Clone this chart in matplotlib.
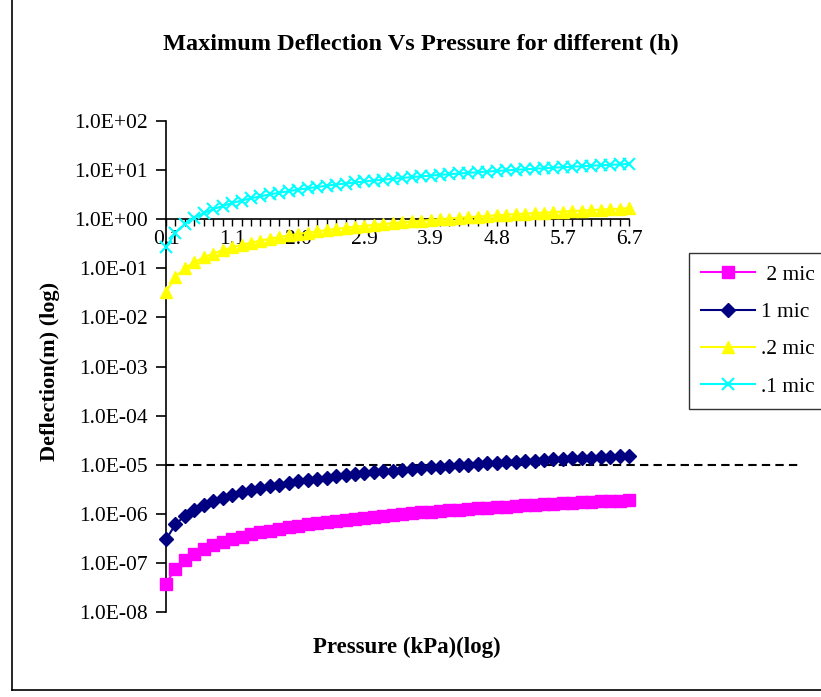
import matplotlib
matplotlib.use('Agg')
import matplotlib.pyplot as plt
from matplotlib.lines import Line2D
from matplotlib.ticker import FuncFormatter

plt.rcParams['font.family'] = ['Liberation Serif', 'DejaVu Serif']

# pressure in kPa (1..50 Torr)
pressure = [0.133, 0.267, 0.400, 0.533, 0.667, 0.800, 0.933, 1.067, 1.200, 1.333,
            1.467, 1.600, 1.733, 1.867, 2.000, 2.133, 2.266, 2.400, 2.533, 2.666,
            2.800, 2.933, 3.066, 3.200, 3.333, 3.466, 3.600, 3.733, 3.866, 4.000,
            4.133, 4.266, 4.400, 4.533, 4.666, 4.800, 4.933, 5.066, 5.199, 5.333,
            5.466, 5.599, 5.733, 5.866, 5.999, 6.133, 6.266, 6.399, 6.533, 6.666]

# deflection in micrometres
defl_2mic = [0.038, 0.076, 0.114, 0.152, 0.190, 0.228, 0.266, 0.304, 0.342, 0.380,
             0.418, 0.456, 0.494, 0.532, 0.570, 0.608, 0.646, 0.684, 0.722, 0.760,
             0.798, 0.836, 0.874, 0.912, 0.950, 0.988, 1.026, 1.064, 1.102, 1.140,
             1.178, 1.216, 1.254, 1.292, 1.330, 1.368, 1.406, 1.444, 1.482, 1.520,
             1.558, 1.596, 1.634, 1.672, 1.710, 1.748, 1.786, 1.824, 1.862, 1.900]
defl_1mic = [0.30, 0.61, 0.91, 1.22, 1.52, 1.82, 2.13, 2.43, 2.74, 3.04,
             3.34, 3.65, 3.95, 4.26, 4.56, 4.86, 5.17, 5.47, 5.78, 6.08,
             6.38, 6.69, 6.99, 7.30, 7.60, 7.90, 8.21, 8.51, 8.82, 9.12,
             9.42, 9.73, 10.03, 10.34, 10.64, 10.94, 11.25, 11.55, 11.86, 12.16,
             12.46, 12.77, 13.07, 13.38, 13.68, 13.98, 14.29, 14.59, 14.90, 15.20]
# deflection in metres
defl_02mic = [0.033, 0.067, 0.100, 0.133, 0.167, 0.200, 0.233, 0.267, 0.300, 0.333,
              0.367, 0.400, 0.433, 0.467, 0.500, 0.533, 0.567, 0.600, 0.633, 0.667,
              0.700, 0.733, 0.767, 0.800, 0.833, 0.867, 0.900, 0.933, 0.967, 1.000,
              1.033, 1.067, 1.100, 1.133, 1.167, 1.200, 1.233, 1.267, 1.300, 1.333,
              1.367, 1.400, 1.433, 1.467, 1.500, 1.533, 1.567, 1.600, 1.633, 1.667]
defl_01mic = [0.27, 0.53, 0.80, 1.07, 1.33, 1.60, 1.87, 2.13, 2.40, 2.67,
              2.93, 3.20, 3.47, 3.73, 4.00, 4.27, 4.53, 4.80, 5.07, 5.33,
              5.60, 5.87, 6.13, 6.40, 6.67, 6.93, 7.20, 7.47, 7.73, 8.00,
              8.27, 8.53, 8.80, 9.07, 9.33, 9.60, 9.87, 10.13, 10.40, 10.67,
              10.93, 11.20, 11.47, 11.73, 12.00, 12.27, 12.53, 12.80, 13.07, 13.33]

threshold = 1e-5
label_every = 7

W, H = 821, 697
fig = plt.figure(figsize=(W / 100, H / 100), dpi=100)
ax = fig.add_axes([166 / W, 1 - 612 / H, 463 / W, 491 / H])

idx = list(range(len(pressure)))
ax.plot(idx, [v * 1e-6 for v in defl_2mic], color='#FF00FF', marker='s', ms=8,
        lw=1.5, label=' 2 mic', clip_on=False, zorder=3)
ax.plot(idx, [v * 1e-6 for v in defl_1mic], color='#000080', marker='D', ms=7,
        lw=1.5, label='1 mic', clip_on=False, zorder=3)
ax.plot(idx, defl_02mic, color='#FFFF00', marker='^', ms=9, lw=1.5,
        label='.2 mic', clip_on=False, zorder=3)
ax.plot(idx, defl_01mic, color='#00FFFF', marker='x', ms=9, mew=1.5, lw=1.5,
        label='.1 mic', clip_on=False, zorder=3)

ax.axhline(threshold, xmin=0, xmax=(800 - 166) / 463, color='black', lw=1.5,
           dashes=(4, 2.5), clip_on=False, zorder=2)

ax.set_yscale('log')
ax.set_ylim(1e-8, 1e2)
ax.set_yticks([10.0 ** k for k in range(-8, 3)])
ax.yaxis.set_minor_locator(matplotlib.ticker.NullLocator())
ax.yaxis.set_major_formatter(FuncFormatter(lambda v, p: f'{v:.1E}'))
ax.set_xlim(0, len(pressure) - 1)
ax.set_xticks(idx)
ax.set_xticklabels([f'{p:.1f}' if i % label_every == 0 else ''
                    for i, p in enumerate(pressure)])

for s in ['top', 'right']:
    ax.spines[s].set_visible(False)
ax.spines['bottom'].set_position(('data', 1))
ax.spines['left'].set_linewidth(1.2)
ax.spines['bottom'].set_linewidth(1.2)
ax.tick_params(axis='y', direction='out', length=7, width=1.2, labelsize=15.5, pad=6)
ax.tick_params(axis='x', direction='out', length=5, width=1.0, labelsize=15.5, pad=3)
ax.patch.set_alpha(0)

fig.text(421 / W, 1 - 44 / H, 'Maximum Deflection Vs Pressure for different (h)',
         ha='center', va='center', fontsize=17.5, fontweight='bold')
fig.text(50 / W, 1 - 371 / H, 'Deflection(m) (log)', rotation=90,
         ha='center', va='center', fontsize=16, fontweight='bold')
fig.text(407 / W, 1 - 647 / H, 'Pressure (kPa)(log)', ha='center', va='center',
         fontsize=16.5, fontweight='bold')

fig.legend(loc='upper left', bbox_to_anchor=(689 / W, 1 - 253 / H),
           frameon=True, fancybox=False, edgecolor='black', fontsize=15.5,
           handlelength=2.5, handletextpad=0.3, labelspacing=0.8,
           borderpad=0.55, borderaxespad=0)

# outer chart frame
fig.add_artist(Line2D([12 / W, 12 / W], [1 - 690 / H, 1.0], color='black', lw=1.2))
fig.add_artist(Line2D([12 / W, 1.0], [1 - 690 / H, 1 - 690 / H], color='black', lw=1.2))

fig.savefig('out.png', dpi=100)
